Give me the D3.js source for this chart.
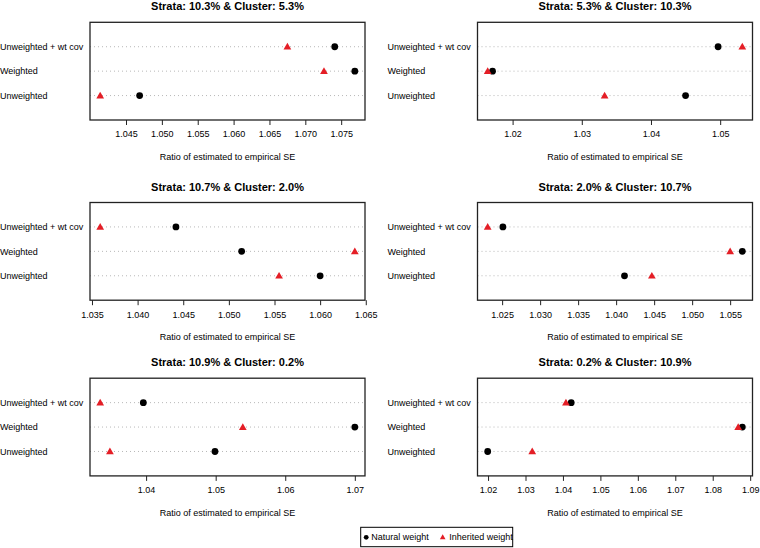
<!DOCTYPE html>
<html>
<head>
<meta charset="utf-8">
<script src="https://cdn.jsdelivr.net/npm/d3@7"></script>
<style>
  body { margin: 0; background: #fff; }
  text { font-family: "Liberation Sans", Arial, Helvetica, sans-serif; fill: #000; }
</style>
</head>
<body>
<div id="viz"></div>
<script>
// rows from bottom to top, as in the dotchart
var categories = ["Unweighted", "Weighted", "Unweighted + wt cov"];

var titles = [
  "Strata: 10.3% & Cluster: 5.3%",
  "Strata: 5.3% & Cluster: 10.3%",
  "Strata: 10.7% & Cluster: 2.0%",
  "Strata: 2.0% & Cluster: 10.7%",
  "Strata: 10.9% & Cluster: 0.2%",
  "Strata: 0.2% & Cluster: 10.9%"
];

// values per panel, in the order of categories
var natural = [
  [1.0469, 1.0769, 1.0741],
  [1.0450, 1.0171, 1.0497],
  [1.0600, 1.0514, 1.0442],
  [1.0411, 1.0566, 1.0251],
  [1.0499, 1.0700, 1.0396],
  [1.0199, 1.0879, 1.0422]
];
var inherited = [
  [1.0414, 1.0726, 1.0675],
  [1.0333, 1.0164, 1.0532],
  [1.0555, 1.0638, 1.0359],
  [1.0447, 1.0550, 1.0231],
  [1.0348, 1.0539, 1.0334],
  [1.0318, 1.0868, 1.0408]
];

var tickValues = [
  [1.045, 1.050, 1.055, 1.060, 1.065, 1.070, 1.075],
  [1.02, 1.03, 1.04, 1.05],
  [1.035, 1.040, 1.045, 1.050, 1.055, 1.060, 1.065],
  [1.025, 1.030, 1.035, 1.040, 1.045, 1.050, 1.055],
  [1.04, 1.05, 1.06, 1.07],
  [1.02, 1.03, 1.04, 1.05, 1.06, 1.07, 1.08, 1.09]
];

var legendLabels = ["Natural weight", "Inherited weight"];
var xTitle = "Ratio of estimated to empirical SE";

var W = 760, H = 548;
var colLeft = [90, 477.5], boxW = 275;
var rowTop = [22.3, 202.5, 378.2], boxH = 97.7;
var red = "#e41e26";

var svg = d3.select("#viz").append("svg")
    .attr("width", W).attr("height", H);

var triangle = d3.symbol().type(d3.symbolTriangle).size(26);

titles.forEach(function(title, i) {
  var x0 = colLeft[i % 2], y0 = rowTop[Math.floor(i / 2)];
  var g = svg.append("g").attr("transform", "translate(" + x0 + "," + y0 + ")");

  // xlim = range of data widened by 4% each side, like R
  var ext = d3.extent(natural[i].concat(inherited[i]));
  var pad = (ext[1] - ext[0]) * 0.04;
  var x = d3.scaleLinear().domain([ext[0] - pad, ext[1] + pad]).range([0, boxW]);
  var y = d3.scalePoint().domain(categories).range([boxH, 0]).padding(1);

  g.append("text")
    .attr("x", boxW / 2).attr("y", -12)
    .attr("text-anchor", "middle")
    .style("font-size", "11px").style("font-weight", "bold")
    .text(title);

  // dotted guide lines
  g.selectAll(".guide").data(categories).enter().append("line")
    .attr("x1", 0).attr("x2", boxW)
    .attr("y1", function(d) { return y(d); })
    .attr("y2", function(d) { return y(d); })
    .attr("stroke", "#b8b8b8").attr("stroke-width", 1)
    .attr("stroke-dasharray", "1,3");

  g.selectAll(".lab").data(categories).enter().append("text")
    .attr("x", -x0 + (i % 2 ? x0 - 90 : 0))
    .attr("y", function(d) { return y(d); })
    .attr("dy", "0.35em")
    .style("font-size", "9px")
    .text(function(d) { return d; });

  var step = tickValues[i][1] - tickValues[i][0];
  var axis = d3.axisBottom(x).tickValues(tickValues[i])
    .tickSize(5).tickSizeOuter(0).tickPadding(6)
    .tickFormat(d3.format("." + d3.precisionFixed(step) + "f"));
  var ax = g.append("g").attr("transform", "translate(0," + boxH + ")").call(axis);
  ax.select(".domain").remove();
  ax.selectAll("line").attr("stroke", "#222");
  ax.selectAll("text").style("font-size", "9px")
    .style("font-family", "'Liberation Sans', Arial, sans-serif").attr("fill", "#000");

  g.append("text")
    .attr("x", boxW / 2).attr("y", boxH + 40)
    .attr("text-anchor", "middle")
    .style("font-size", "9px")
    .text(xTitle);

  g.selectAll(".nat").data(natural[i]).enter().append("circle")
    .attr("cx", function(d) { return x(d); })
    .attr("cy", function(d, j) { return y(categories[j]); })
    .attr("r", 3.4).attr("fill", "#000");

  g.selectAll(".inh").data(inherited[i]).enter().append("path")
    .attr("d", triangle)
    .attr("transform", function(d, j) {
      return "translate(" + x(d) + "," + (y(categories[j]) + 0.6) + ")";
    })
    .attr("fill", red);

  g.append("rect")
    .attr("width", boxW).attr("height", boxH)
    .attr("fill", "none").attr("stroke", "#222").attr("stroke-width", 1.3);
});

// legend
var lg = svg.append("g").attr("transform", "translate(360.7,527.3)");
lg.append("rect").attr("width", 152).attr("height", 19.4)
  .attr("fill", "#fff").attr("stroke", "#000").attr("stroke-width", 1);
lg.append("circle").attr("cx", 5.5).attr("cy", 10).attr("r", 2.4).attr("fill", "#000");
lg.append("path").attr("d", d3.symbol().type(d3.symbolTriangle).size(14))
  .attr("transform", "translate(82,10.3)").attr("fill", red);
lg.selectAll(".lt").data(legendLabels).enter().append("text")
  .attr("x", function(d, k) { return k ? 88.6 : 10.5; })
  .attr("y", 10).attr("dy", "0.35em")
  .style("font-size", "9px")
  .text(function(d) { return d; });
</script>
</body>
</html>
